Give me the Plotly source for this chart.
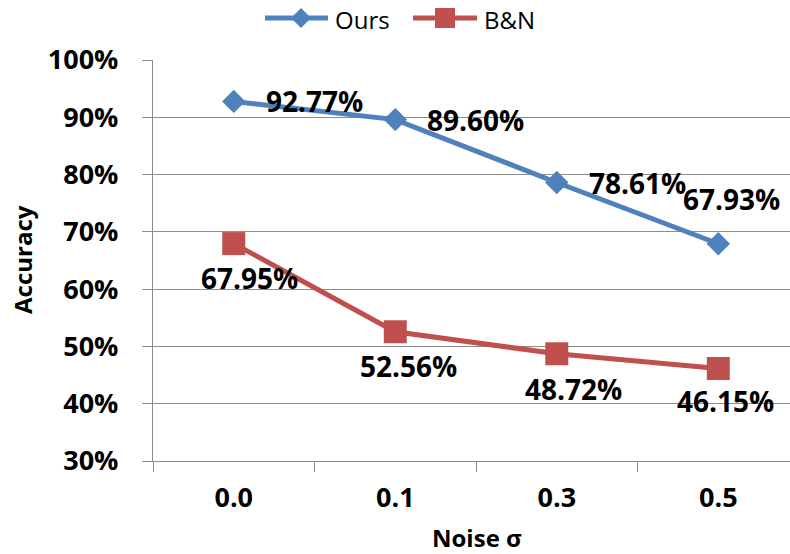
import plotly.graph_objects as go

# ---- data ----
categories = ["0.0", "0.1", "0.3", "0.5"]
ours = [92.77, 89.60, 78.61, 67.93]
bn = [67.95, 52.56, 48.72, 46.15]
series_names = ["Ours", "B&N"]
y_ticks = [30, 40, 50, 60, 70, 80, 90, 100]
y_tick_labels = [f"{v}%" for v in y_ticks]

# ---- style ----
W, H = 790, 554
ML, MR, MT, MB = 153, 0, 60, 93
BLUE = "#4F81BD"
RED = "#C0504D"
GRID = "#8c8c8c"
FONT = "Open Sans"

# label offsets (px) for data labels: (xshift, yshift, xanchor)
ours_lbl = [(30, 0, "left"), (30, 0, "left"), (30, 0, "left"), (13, 45, "center")]
bn_lbl = [(16, -34, "center"), (13, -34, "center"), (17, -35, "center"), (7, -33, "center")]

def px2x(px):
    return (px - ML) / (W - ML - MR)

def py2y(py):
    return (H - MB - py) / (H - MT - MB)

fig = go.Figure()
fig.add_trace(go.Scatter(
    x=categories, y=ours, name=series_names[0], mode="lines+markers",
    line=dict(color=BLUE, width=5),
    marker=dict(symbol="diamond", size=18, color=BLUE, line=dict(width=0)),
    showlegend=False))
fig.add_trace(go.Scatter(
    x=categories, y=bn, name=series_names[1], mode="lines+markers",
    line=dict(color=RED, width=5),
    marker=dict(symbol="square", size=23, color=RED, line=dict(width=0)),
    showlegend=False))

annotations = []
for vals, offs in ((ours, ours_lbl), (bn, bn_lbl)):
    for i, (v, (dx, dy, xa)) in enumerate(zip(vals, offs)):
        annotations.append(dict(
            x=i, y=v, xref="x", yref="y", text=f"{v:.2f}%", showarrow=False,
            xshift=dx, yshift=dy, xanchor=xa, yanchor="middle",
            font=dict(family=FONT, size=28, color="black", weight="bold")))

# axis titles
annotations.append(dict(x=px2x(22), y=py2y(260), xref="paper", yref="paper",
                        text="Accuracy", textangle=-90, showarrow=False,
                        xanchor="center", yanchor="middle",
                        font=dict(family=FONT, size=24, color="black", weight="bold")))
annotations.append(dict(x=px2x(477), y=py2y(537), xref="paper", yref="paper",
                        text="Noise σ", showarrow=False,
                        xanchor="center", yanchor="middle",
                        font=dict(family=FONT, size=24, color="black", weight="bold")))

# legend (manual)
shapes = []
legend_items = [
    (series_names[0], BLUE, "diamond", 265, 328, 301, 333),
    (series_names[1], RED, "square", 413, 477, 445, 482),
]
LY = 18
for name, col, sym, x0, x1, xm, xt in legend_items:
    shapes.append(dict(type="line", xref="paper", yref="paper",
                       x0=px2x(x0), x1=px2x(x1), y0=py2y(LY), y1=py2y(LY),
                       line=dict(color=col, width=5)))
    r = 10
    if sym == "diamond":
        path = (f"M {px2x(xm - r)} {py2y(LY)} L {px2x(xm)} {py2y(LY - r)} "
                f"L {px2x(xm + r)} {py2y(LY)} L {px2x(xm)} {py2y(LY + r)} Z")
    else:
        path = (f"M {px2x(xm - r)} {py2y(LY - r)} L {px2x(xm + r)} {py2y(LY - r)} "
                f"L {px2x(xm + r)} {py2y(LY + r)} L {px2x(xm - r)} {py2y(LY + r)} Z")
    shapes.append(dict(type="path", xref="paper", yref="paper", path=path,
                       fillcolor=col, line=dict(width=0)))
    annotations.append(dict(x=px2x(xt), y=py2y(LY + 1), xref="paper", yref="paper",
                            text=name, showarrow=False, xanchor="left", yanchor="middle",
                            font=dict(family=FONT, size=24, color="black")))

fig.update_layout(
    width=W, height=H,
    margin=dict(l=ML, r=MR, t=MT, b=MB, pad=0),
    paper_bgcolor="white", plot_bgcolor="white",
    showlegend=False,
    annotations=annotations,
    shapes=shapes,
    xaxis=dict(type="category", range=[-0.5, 3.444], tickson="boundaries",
               showgrid=False, showline=True, linecolor=GRID, linewidth=1.3,
               ticks="outside", ticklen=10, tickcolor=GRID, tickwidth=1.3,
               ticklabelstandoff=12,
               tickfont=dict(family=FONT, size=27, color="black", weight="bold"),
               zeroline=False),
    yaxis=dict(range=[30, 100], tickmode="array", tickvals=y_ticks, ticktext=y_tick_labels,
               showgrid=True, gridcolor=GRID, gridwidth=1.3,
               showline=True, linecolor=GRID, linewidth=1.3,
               ticks="outside", ticklen=10, tickcolor=GRID, tickwidth=1.3,
               ticklabelstandoff=18,
               tickfont=dict(family=FONT, size=27, color="black", weight="bold"),
               zeroline=False),
)

fig.write_html("out.html")
